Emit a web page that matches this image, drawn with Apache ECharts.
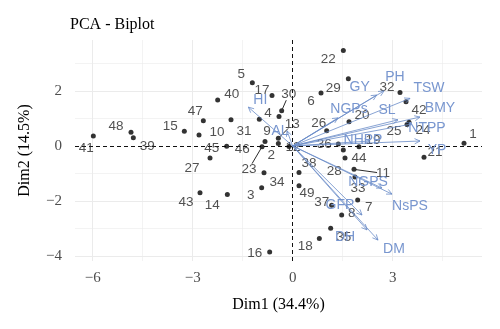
<!DOCTYPE html>
<html><head><meta charset="utf-8">
<script src="https://cdn.jsdelivr.net/npm/echarts@6/dist/echarts.min.js"></script>
<style>html,body{margin:0;padding:0;background:#fff}#c{width:500px;height:329px}</style>
</head><body><div id="c"></div>
<script>
// ---- data ----
const genotypes = ['1','2','3','4','5','6','7','8','9','10','11','12','13','14','15','16','17','18','19','20','21','22','23','24','25','26','27','28','29','30','31','32','33','34','35','36','37','38','39','40','41','42','43','44','45','46','47','48','49'];
const dim1 = [5.14,-0.43,-0.93,-0.41,-1.21,0.85,1.95,1.47,-0.83,-2.81,1.84,-0.11,-0.43,-1.96,-3.25,-0.69,-0.62,0.80,1.99,1.69,3.94,1.52,-0.92,3.49,3.43,1.02,-2.48,1.52,1.67,-0.33,-1.85,3.22,1.87,-0.86,1.14,1.37,1.17,0.19,-4.78,-2.25,-5.98,3.40,-2.78,1.57,-1.98,-1.00,-2.68,-4.85,0.19];
const dim2 = [0.10,0.09,-1.52,1.07,2.30,1.92,-1.96,-2.51,0.16,0.40,-0.85,-0.02,0.28,-1.76,0.53,-3.85,1.83,-3.36,-0.03,0.88,-0.41,3.47,-0.03,0.86,0.78,0.55,-0.44,-0.15,2.44,1.28,0.95,1.94,-1.13,-0.97,-2.99,0.07,-2.15,-0.96,0.30,1.67,0.36,1.61,-1.70,-0.44,-0.01,0.97,0.92,0.50,-1.45];
const variables = ['PH','GY','TSW','BMY','NGPs','SL','NTPP','NHPP','YP','HI','AL','NGPS','NsPS','GFP','DH','DM'];
const varDim1 = [2.74,2.52,3.52,3.82,1.36,3.16,3.58,2.32,3.82,-1.33,-0.17,2.68,2.98,2.08,2.23,2.56];
const varDim2 = [2.00,1.85,1.73,1.05,1.02,0.95,0.80,0.18,0.18,1.41,0.55,-1.53,-1.75,-2.51,-3.05,-3.42];
const xTicks = [-6,-3,0,3];
const yTicks = [-4,-2,0,2];
const xMinorGrid = [-4.5,-1.5,1.5,4.5];
const yMinorGrid = [-3,-1,1,3];

// ---- label layout (pixel offsets, style only) ----
const genoLabelOffset = [[9,-9],[-7,12],[-11,7],[-11,-3],[-11,-8],[-10,8],[11,7],[10,-2],[2,-10],[18,-3],[29,4],[4,1],[14,-14],[-15,11],[-14,-5],[-15,1],[-10,-5],[-14,8],[14,-7],[13,-6],[11,-5],[-15,9],[-13,22],[14,8],[-13,7],[-8,-8],[-18,10],[-9,21],[-15,9],[7,-16],[13,11],[-13,-5],[3,11],[13,10],[13,9],[-14,0],[-10,-3],[10,-9],[14,9],[14,-6],[-7,12],[13,9],[-14,10],[14,0],[-15,2],[-17,30],[-8,-9],[-15,-6],[8,7]];
const genoSegment = ['11','13','23','30'];
const varLabelOffset = [[11,-14],[-17,-8],[19,-10],[20,-9],[11,-9],[-11,-10],[15,4],[-7,-1],[17,9],[12,-7],[-7,0],[-14,-6],[18,12],[-22,-10],[-22,7],[16,9]];

const ARROW = '#6a8bc8', VARTXT = '#7896cf', PTTXT = '#262626';
const SANS = '"Liberation Sans", Arial, sans-serif';
const SERIF = '"Liberation Serif", "Times New Roman", serif';
const minus = v => (v < 0 ? '\u2212' + Math.abs(v) : String(v));

const grid = (axis, vals, w) => vals.map(v => ({[axis]: v, lineStyle: {color: '#ebebeb', width: w, type: 'solid'}}));
const markLines = [].concat(
  grid('xAxis', xMinorGrid, 0.6), grid('yAxis', yMinorGrid, 0.6),
  grid('xAxis', xTicks.filter(v => v !== 0), 1), grid('yAxis', yTicks.filter(v => v !== 0), 1),
  [{xAxis: 0, lineStyle: {color: '#111', width: 1, type: [4, 3]}},
   {yAxis: 0, lineStyle: {color: '#111', width: 1, type: [4, 3]}}]
);

const points = genotypes.map((g, i) => ({
  name: g, value: [dim1[i], dim2[i]],
  label: {offset: genoLabelOffset[i]}
}));

const chart = echarts.init(document.getElementById('c'), null, {renderer: 'canvas'});
chart.setOption({
  animation: false,
  backgroundColor: '#fff',
  title: {text: 'PCA - Biplot', left: 70, top: 17, padding: 0,
    textStyle: {fontFamily: SERIF, fontSize: 16, fontWeight: 'normal', color: '#000'}},
  grid: {left: 75, right: 18, top: 40, bottom: 68},
  xAxis: {type: 'value', min: -6.53, max: 5.68,
    axisLine: {show: false}, splitLine: {show: false},
    axisTick: {show: true, customValues: xTicks, length: 4, lineStyle: {color: '#333', width: 1}},
    axisLabel: {customValues: xTicks, formatter: minus, margin: 10, fontFamily: SERIF, fontSize: 15, color: '#4d4d4d'},
    name: 'Dim1 (34.4%)', nameLocation: 'middle', nameGap: 36,
    nameTextStyle: {fontFamily: SERIF, fontSize: 16, color: '#000'}},
  yAxis: {type: 'value', min: -4.18, max: 3.85,
    axisLine: {show: false}, splitLine: {show: false},
    axisTick: {show: true, customValues: yTicks, length: 4, lineStyle: {color: '#333', width: 1}},
    axisLabel: {customValues: yTicks, formatter: minus, margin: 13, fontFamily: SERIF, fontSize: 15, color: '#4d4d4d'},
    name: 'Dim2 (14.5%)', nameLocation: 'middle', nameGap: 42,
    nameTextStyle: {fontFamily: SERIF, fontSize: 16, color: '#000'}},
  series: [
    {type: 'scatter', z: 2, symbolSize: 5, itemStyle: {color: '#000'},
      data: points,
      label: {show: true, position: 'inside', formatter: '{b}', fontFamily: SANS, fontSize: 13.5, color: PTTXT},
      markLine: {silent: true, symbol: 'none', label: {show: false}, data: markLines, z: 1}
    },
    {type: 'custom', z: 3, silent: true,
      data: genotypes.map((g, i) => [dim1[i], dim2[i], i]).filter(d => genoSegment.includes(genotypes[d[2]])),
      renderItem: (params, api) => {
        const i = api.value(2);
        const p = api.coord([api.value(0), api.value(1)]);
        const o = genoLabelOffset[i];
        const len = Math.hypot(o[0], o[1]);
        const k0 = 2 / len, k = (len - 6) / len;
        return {type: 'line', shape: {x1: p[0] + o[0] * k0, y1: p[1] + o[1] * k0, x2: p[0] + o[0] * k, y2: p[1] + o[1] * k},
          style: {stroke: '#111', lineWidth: 0.9}};
      }
    },
    {type: 'custom', z: 4, silent: true,
      data: variables.map((v, i) => [varDim1[i], varDim2[i], i]),
      renderItem: (params, api) => {
        const i = api.value(2);
        const o = api.coord([0, 0]);
        const t = api.coord([api.value(0), api.value(1)]);
        const ang = Math.atan2(t[1] - o[1], t[0] - o[0]);
        const L = 6, a = Math.PI / 7;
        const h1 = [t[0] - L * Math.cos(ang - a), t[1] - L * Math.sin(ang - a)];
        const h2 = [t[0] - L * Math.cos(ang + a), t[1] - L * Math.sin(ang + a)];
        const off = varLabelOffset[i];
        return {type: 'group', children: [
          {type: 'line', shape: {x1: o[0], y1: o[1], x2: t[0], y2: t[1]}, style: {stroke: ARROW, lineWidth: 0.8}},
          {type: 'polyline', shape: {points: [h1, t, h2]}, style: {stroke: ARROW, lineWidth: 0.8, fill: 'none'}},
          {type: 'text', x: t[0] + off[0], y: t[1] + off[1],
            style: {text: variables[i], fill: VARTXT, font: '14px ' + SANS, align: 'center', verticalAlign: 'middle'}}
        ]};
      }
    }
  ]
});
</script></body></html>
